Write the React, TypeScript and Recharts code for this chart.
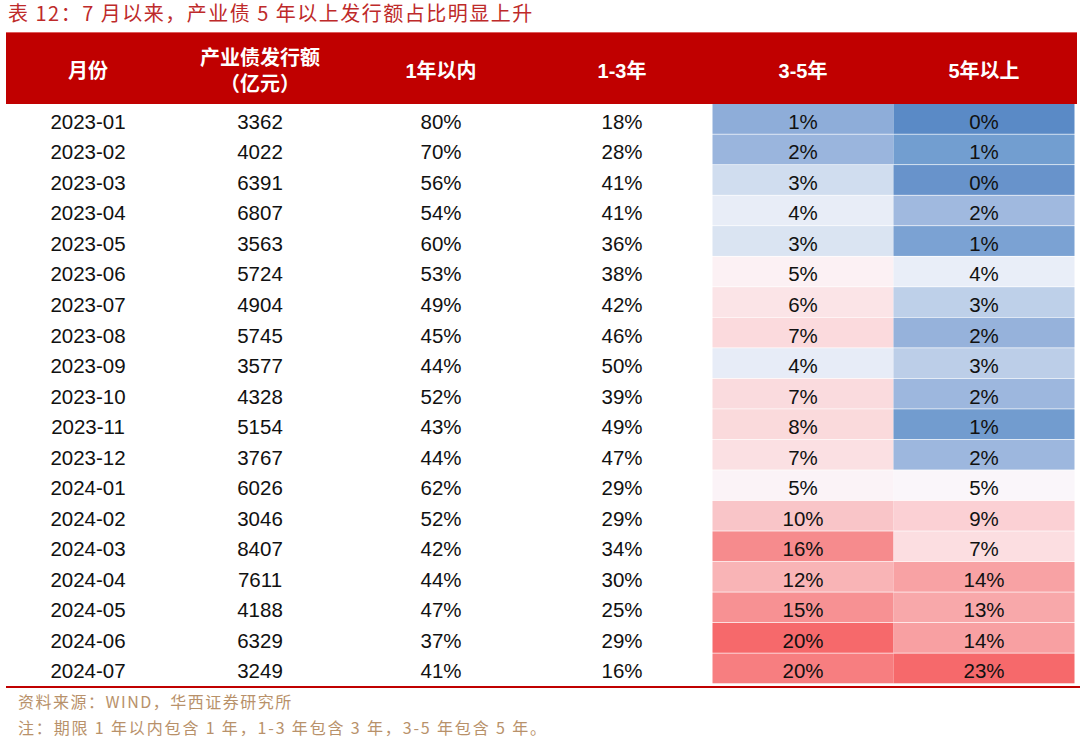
import React from "react";
import { ScatterChart, Scatter, XAxis, YAxis } from "recharts";

// rows of the table
const months = [
  "2023-01", "2023-02", "2023-03", "2023-04", "2023-05", "2023-06", "2023-07",
  "2023-08", "2023-09", "2023-10", "2023-11", "2023-12", "2024-01", "2024-02",
  "2024-03", "2024-04", "2024-05", "2024-06", "2024-07",
];
const issuance = [
  3362, 4022, 6391, 6807, 3563, 5724, 4904, 5745, 3577, 4328, 5154, 3767, 6026,
  3046, 8407, 7611, 4188, 6329, 3249,
];
const within1y = [80, 70, 56, 54, 60, 53, 49, 45, 44, 52, 43, 44, 62, 52, 42, 44, 47, 37, 41];
const y1to3 = [18, 28, 41, 41, 36, 38, 42, 46, 50, 39, 49, 47, 29, 29, 34, 30, 25, 29, 16];
const y3to5 = [1, 2, 3, 4, 3, 5, 6, 7, 4, 7, 8, 7, 5, 10, 16, 12, 15, 20, 20];
const over5y = [0, 1, 0, 2, 1, 4, 3, 2, 3, 2, 1, 2, 5, 9, 7, 14, 13, 14, 23];

const headers = [
  ["月份"],
  ["产业债发行额", "（亿元）"],
  ["1年以内"],
  ["1-3年"],
  ["3-5年"],
  ["5年以上"],
];

// heat-map fills
const heat35 = [
  "#8EADD9", "#9AB5DD", "#D0DDEF", "#E8EDF7", "#DAE4F2", "#FCF1F4", "#FBE4E7",
  "#FBDADD", "#E7ECF7", "#FADBDE", "#FADADC", "#FBE0E3", "#FBF3F7", "#F9C5C8",
  "#F68B8D", "#F9B4B6", "#F79193", "#F6696B", "#F77E80",
];
const heat5 = [
  "#5A8AC6", "#729ED0", "#6893CB", "#A0B9DF", "#7BA2D3", "#E9EEF8", "#BED0E9",
  "#96B2DB", "#BCCEE8", "#9DB7DE", "#729CCF", "#9DB7DE", "#FAF6FA", "#FBD0D4",
  "#FCDEE1", "#F8A2A4", "#F8A8AA", "#F8A0A2", "#F6696B",
];

const W = 1080;
const H = 740;
const colCenters = [88, 260, 441, 622, 803, 984];
const CELL_W = 181;
const ROW_H = 580 / months.length;
const RED = "#C00000";
const FONT = '"Liberation Sans", Arial, "Noto Sans CJK SC", sans-serif';
const CJK = '"Noto Sans CJK SC", sans-serif';

const pct = (v: number) => `${v}%`;
const columnTexts = [
  months,
  issuance.map(String),
  within1y.map(pct),
  y1to3.map(pct),
  y3to5.map(pct),
  over5y.map(pct),
];
const columnFills: (string[] | null)[] = [null, null, null, null, heat35, heat5];

const columnData = columnTexts.map((texts, c) =>
  texts.map((label, row) => ({
    x: colCenters[c],
    row,
    label,
    fill: columnFills[c] ? columnFills[c]![row] : null,
  }))
);

const CellShape = (props: any) => {
  const { cx, cy, payload } = props;
  return (
    <g>
      {payload.fill && (
        <rect
          x={cx - CELL_W / 2}
          y={cy - ROW_H / 2}
          width={CELL_W}
          height={ROW_H - 0.7}
          fill={payload.fill}
        />
      )}
      <text
        x={cx}
        y={cy + 9.6}
        textAnchor="middle"
        fontSize={20.5}
        fontFamily={FONT}
        fill="#111"
      >
        {payload.label}
      </text>
    </g>
  );
};

const HeaderTick = (props: any) => {
  const { x, payload } = props;
  const idx = colCenters.indexOf(payload.value);
  const lines = headers[idx] || [];
  return (
    <g>
      {idx === 0 && (
        <g>
          <rect x={6} y={32} width={1071} height={72} fill={RED} />
          <line x1={6} x2={1077} y1={32.5} y2={32.5} stroke="#DD5C5C" strokeWidth={1} />
        </g>
      )}
      {lines.map((t, i) => (
        <text
          key={i}
          x={x}
          y={lines.length === 1 ? 78 : 65 + i * 26}
          textAnchor="middle"
          fontSize={20}
          fontWeight="bold"
          fontFamily={FONT}
          fill="#fff"
        >
          {t}
        </text>
      ))}
    </g>
  );
};

const noteStyle = (top: number, spacing: number): React.CSSProperties => ({
  position: "absolute",
  left: 18,
  top,
  fontSize: 16,
  lineHeight: "24px",
  letterSpacing: spacing,
  color: "#B8916A",
  fontFamily: CJK,
  whiteSpace: "nowrap",
});

export default function App() {
  return (
    <div style={{ position: "absolute", left: 0, top: 0, width: W, height: H, background: "#fff" }}>
      <div
        style={{
          position: "absolute",
          left: 8,
          top: 1,
          fontSize: 20,
          lineHeight: "24px",
          letterSpacing: 1.5,
          color: "#BE2A2A",
          fontFamily: CJK,
          whiteSpace: "nowrap",
        }}
      >
        表 12：7 月以来，产业债 5 年以上发行额占比明显上升
      </div>
      <ScatterChart width={W} height={H} margin={{ top: 33, right: 0, bottom: 56, left: 0 }}>
        <XAxis
          type="number"
          dataKey="x"
          orientation="top"
          domain={[0, W]}
          ticks={colCenters}
          interval={0}
          height={71}
          axisLine={false}
          tickLine={false}
          tick={<HeaderTick />}
        />
        <YAxis type="number" dataKey="row" domain={[-0.5, months.length - 0.5]} reversed hide />
        {columnData.map((d, c) => (
          <Scatter key={c} data={d} shape={<CellShape />} isAnimationActive={false} />
        ))}
      </ScatterChart>
      <div style={{ position: "absolute", left: 6, top: 686, width: 1074, height: 2, background: RED }} />
      <div style={noteStyle(689, 1.5)}>资料来源：WIND，华西证券研究所</div>
      <div style={noteStyle(715, 1.85)}>注：期限 1 年以内包含 1 年，1-3 年包含 3 年，3-5 年包含 5 年。</div>
    </div>
  );
}
